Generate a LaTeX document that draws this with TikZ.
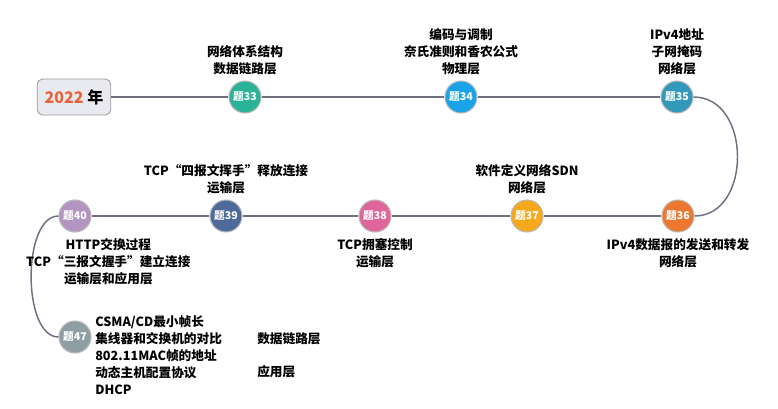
\documentclass[tikz,border=0pt]{standalone}
\usepackage{fontspec}
\setmainfont{Noto Sans CJK SC}
\usetikzlibrary{positioning}
\definecolor{linegray}{HTML}{6E7080}
\definecolor{yearred}{HTML}{E8643C}
\definecolor{boxfill}{HTML}{E9E9F0}
\definecolor{c33}{HTML}{2BB39A}
\definecolor{c34}{HTML}{1AA3E8}
\definecolor{c35}{HTML}{3399BB}
\definecolor{c36}{HTML}{EE7730}
\definecolor{c37}{HTML}{F7A81B}
\definecolor{c38}{HTML}{E0659A}
\definecolor{c39}{HTML}{4D6A9A}
\definecolor{c40}{HTML}{B295C0}
\definecolor{c47}{HTML}{8E9EA3}
\begin{document}
\begin{tikzpicture}[x=0.75pt, y=-0.75pt,
    qnode/.style={circle, draw=gray!55, line width=0.8pt, minimum size=24pt, inner sep=0pt,
        text=white, font=\fontsize{8}{9}\selectfont\bfseries},
    topic/.style={align=center, inner sep=0pt, font=\fontsize{9.5}{12.7}\selectfont\bfseries},
    link/.style={draw=linegray, line width=1.1pt},
    node distance=4pt]
    \useasboundingbox (0,0) rectangle (778,408);
    \node[draw=gray!80, fill=boxfill, rounded corners=4pt, line width=0.6pt,
        minimum width=55pt, minimum height=27pt, font=\fontsize{12}{14}\selectfont\bfseries]
        (year) at (74,97) {\textcolor{yearred}{2022} 年};
    \foreach \n/\x/\y in {33/245/97, 34/461/97, 35/677/97, 36/678/216, 37/527/216,
                          38/375/216, 39/226/216, 40/75/216, 47/75/337}{
        \node[qnode, fill=c\n] (q\n) at (\x,\y) {题\n};
    }
    % connectors
    \draw[link] (year) -- (q33) -- (q34) -- (q35);
    \draw[link] (q36) -- (q37) -- (q38) -- (q39) -- (q40);
    \draw[link] (q35.east) .. controls (752,97) and (752,216) .. (q36.east);
    \draw[link] (q40.west) .. controls (22,216) and (22,337) .. (q47.west);
    % topics
    \node[topic, above=of q33] (t33) {网络体系结构\\数据链路层};
    \node[topic, above=of q34] (t34) {编码与调制\\奈氏准则和香农公式\\物理层};
    \node[topic, above=of q35] (t35) {IPv4地址\\子网掩码\\网络层};
    \node[topic, below=of q36] (t36) {IPv4数据报的发送和转发\\网络层};
    \node[topic, above=of q37] (t37) {软件定义网络SDN\\网络层};
    \node[topic, below=of q38] (t38) {TCP拥塞控制\\运输层};
    \node[topic, above=of q39] (t39) {TCP“四报文挥手”释放连接\\运输层};
    \node[topic, below=of q40, xshift=25pt] (t40) {HTTP交换过程\\TCP“三报文握手”建立连接\\运输层和应用层};
    \node[topic, align=left, anchor=west] (t47) at (95,355)
        {CSMA/CD最小帧长\\集线器和交换机的对比\\802.11MAC帧的地址\\动态主机配置协议\\DHCP};
    \node[topic, anchor=west] (l47a) at (257,339) {数据链路层};
    \node[topic, anchor=west] (l47b) at (257,372) {应用层};
\end{tikzpicture}
\end{document}
